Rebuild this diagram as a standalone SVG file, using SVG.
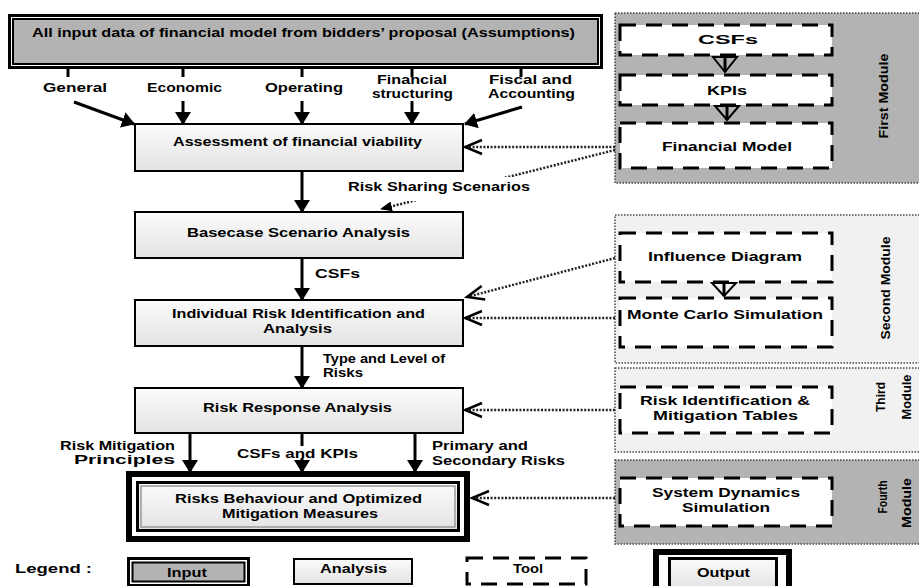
<svg xmlns="http://www.w3.org/2000/svg" width="919" height="586" viewBox="0 0 919 586">
<style>
.t{font-family:"Liberation Sans",Arial,sans-serif;font-weight:bold;font-size:13px;fill:#000}
.box{fill:url(#g);stroke:#000;stroke-width:2}
.tool{fill:#fff;stroke:#000;stroke-width:3;stroke-dasharray:16 10}
.sol{stroke:#000;stroke-width:3;fill:none}
.dot{stroke:#222;stroke-width:2.5;stroke-dasharray:2 1.6;fill:none}
.pan{stroke:#444;stroke-width:1.5;stroke-dasharray:1.5 1.5}
</style>
<defs>
<linearGradient id="g" x1="0" y1="0" x2="0" y2="1">
<stop offset="0" stop-color="#fbfbfb"/>
<stop offset="1" stop-color="#e3e3e3"/>
</linearGradient>
<marker id="ah" viewBox="0 0 13 16" refX="12" refY="8" markerWidth="13" markerHeight="16" markerUnits="userSpaceOnUse" orient="auto">
<path d="M0,0 L13,8 L0,16 z" fill="#000"/>
</marker>
<marker id="sh" viewBox="0 0 12 10" refX="11" refY="5" markerWidth="12" markerHeight="10" markerUnits="userSpaceOnUse" orient="auto">
<path d="M0,0 L12,5 L0,10 z" fill="#000"/>
</marker>
<marker id="oh" viewBox="-2 -2 22 18" refX="17" refY="7" markerWidth="22" markerHeight="18" markerUnits="userSpaceOnUse" orient="auto">
<path d="M0,0 L17,7 L0,14" fill="none" stroke="#000" stroke-width="2.5"/>
</marker>
</defs>
<rect width="919" height="586" fill="#fff"/>

<g id="panels">
<rect id="first-module" class="pan" x="615" y="13" width="320" height="170" fill="#b3b3b3"/>
<rect id="second-module" class="pan" x="615" y="215" width="320" height="148" fill="#f1f1f1"/>
<rect id="third-module" class="pan" x="615" y="368" width="320" height="84" fill="#f1f1f1"/>
<rect id="fourth-module" class="pan" x="615" y="460" width="320" height="84" fill="#b3b3b3"/>
<text class="t" transform="translate(888,96) rotate(-90)" text-anchor="middle" textLength="85" lengthAdjust="spacingAndGlyphs">First Module</text>
<text class="t" transform="translate(890,288) rotate(-90)" text-anchor="middle" textLength="103" lengthAdjust="spacingAndGlyphs">Second Module</text>
<text class="t" transform="translate(885,397) rotate(-90)" text-anchor="middle" textLength="30" lengthAdjust="spacingAndGlyphs">Third</text>
<text class="t" transform="translate(911,397) rotate(-90)" text-anchor="middle" textLength="45" lengthAdjust="spacingAndGlyphs">Module</text>
<text class="t" transform="translate(887,497) rotate(-90)" text-anchor="middle" textLength="33" lengthAdjust="spacingAndGlyphs">Fourth</text>
<text class="t" transform="translate(911,503) rotate(-90)" text-anchor="middle" textLength="50" lengthAdjust="spacingAndGlyphs">Module</text>
</g>

<g id="connectors">
<path class="sol" d="M68,68 V77 M183,68 V77 M302,68 V77 M412,68 V77 M521,68 V77"/>
<line class="sol" x1="74" y1="102" x2="134" y2="124" marker-end="url(#ah)"/>
<line class="sol" x1="183" y1="101" x2="183" y2="124" marker-end="url(#ah)"/>
<line class="sol" x1="302" y1="101" x2="302" y2="124" marker-end="url(#ah)"/>
<line class="sol" x1="412" y1="101" x2="412" y2="124" marker-end="url(#ah)"/>
<line class="sol" x1="522" y1="107" x2="465" y2="124" marker-end="url(#ah)"/>
<line class="sol" x1="302" y1="171" x2="302" y2="212" marker-end="url(#ah)"/>
<line class="sol" x1="302" y1="258" x2="302" y2="300" marker-end="url(#ah)"/>
<line class="sol" x1="302" y1="346" x2="302" y2="388" marker-end="url(#ah)"/>
<line class="sol" x1="190" y1="433" x2="190" y2="472" marker-end="url(#ah)"/>
<line class="sol" x1="302" y1="433" x2="302" y2="446"/>
<line class="sol" x1="302" y1="458" x2="302" y2="472" marker-end="url(#ah)"/>
<line class="sol" x1="415" y1="433" x2="415" y2="472" marker-end="url(#ah)"/>
<line class="sol" x1="725" y1="55" x2="725" y2="72"/>
<polygon points="713,57 737,57 725,72" fill="none" stroke="#000" stroke-width="2"/>
<line class="sol" x1="727" y1="105" x2="727" y2="120"/>
<polygon points="715,106 739,106 727,120" fill="none" stroke="#000" stroke-width="2"/>
<line class="sol" x1="724" y1="282" x2="724" y2="296"/>
<polygon points="712,283 736,283 724,296" fill="none" stroke="#000" stroke-width="2"/>
<line class="dot" x1="615" y1="147" x2="465" y2="147" marker-end="url(#oh)"/>
<line class="dot" x1="615" y1="150" x2="381" y2="209" marker-end="url(#sh)"/>
<line class="dot" x1="615" y1="258" x2="467" y2="297" marker-end="url(#oh)"/>
<line class="dot" x1="615" y1="318" x2="465" y2="318" marker-end="url(#oh)"/>
<line class="dot" x1="615" y1="410" x2="465" y2="410" marker-end="url(#oh)"/>
<line class="dot" x1="615" y1="498" x2="472" y2="498" marker-end="url(#oh)"/>
<rect x="343" y="177" width="224" height="24" fill="#fff"/>
<text class="t" x="43" y="92" textLength="64" lengthAdjust="spacingAndGlyphs">General</text>
<text class="t" x="147" y="92" textLength="75" lengthAdjust="spacingAndGlyphs">Economic</text>
<text class="t" x="265" y="92" textLength="78" lengthAdjust="spacingAndGlyphs">Operating</text>
<text class="t" x="377" y="84" textLength="70" lengthAdjust="spacingAndGlyphs">Financial</text>
<text class="t" x="372" y="98" textLength="81" lengthAdjust="spacingAndGlyphs">structuring</text>
<text class="t" x="489" y="84" textLength="83" lengthAdjust="spacingAndGlyphs">Fiscal and</text>
<text class="t" x="488" y="98" textLength="87" lengthAdjust="spacingAndGlyphs">Accounting</text>
<text class="t" x="348" y="191" textLength="182" lengthAdjust="spacingAndGlyphs">Risk Sharing Scenarios</text>
<text class="t" x="315" y="278" textLength="45" lengthAdjust="spacingAndGlyphs">CSFs</text>
<text class="t" x="323" y="363" textLength="122" lengthAdjust="spacingAndGlyphs">Type and Level of</text>
<text class="t" x="323" y="377" textLength="40" lengthAdjust="spacingAndGlyphs">Risks</text>
<text class="t" x="60" y="450" textLength="115" lengthAdjust="spacingAndGlyphs">Risk Mitigation</text>
<text class="t" x="74" y="464" textLength="101" lengthAdjust="spacingAndGlyphs">Principles</text>
<text class="t" x="237" y="458" textLength="121" lengthAdjust="spacingAndGlyphs">CSFs and KPIs</text>
<text class="t" x="432" y="450" textLength="96" lengthAdjust="spacingAndGlyphs">Primary and</text>
<text class="t" x="432" y="465" textLength="133" lengthAdjust="spacingAndGlyphs">Secondary Risks</text>
</g>

<g id="input-data">
<rect x="9.5" y="15.5" width="592" height="52" fill="#fff" stroke="#000" stroke-width="3"/>
<rect x="13" y="19" width="585" height="45" fill="#b3b3b3" stroke="#000" stroke-width="2"/>
<text class="t" x="32" y="37" textLength="543" lengthAdjust="spacingAndGlyphs">All input data of financial model from bidders’ proposal (Assumptions)</text>
</g>

<g id="assessment">
<rect class="box" x="135" y="124" width="328" height="47"/>
<text class="t" x="173" y="146" textLength="249" lengthAdjust="spacingAndGlyphs">Assessment of financial viability</text>
</g>

<g id="basecase">
<rect class="box" x="135" y="212" width="328" height="46"/>
<text class="t" x="187" y="237" textLength="223" lengthAdjust="spacingAndGlyphs">Basecase Scenario Analysis</text>
</g>

<g id="individual-risk">
<rect class="box" x="135" y="300" width="328" height="46"/>
<text class="t" x="172" y="318" textLength="253" lengthAdjust="spacingAndGlyphs">Individual Risk Identification and</text>
<text class="t" x="263" y="333" textLength="69" lengthAdjust="spacingAndGlyphs">Analysis</text>
</g>

<g id="risk-response">
<rect class="box" x="135" y="388" width="328" height="45"/>
<text class="t" x="203" y="412" textLength="189" lengthAdjust="spacingAndGlyphs">Risk Response Analysis</text>
</g>

<g id="output">
<rect x="129" y="474" width="338" height="65" fill="#fff" stroke="#000" stroke-width="6"/>
<rect x="137.5" y="482.5" width="321" height="48" fill="url(#g)" stroke="#000" stroke-width="3"/>
<rect x="141" y="486" width="314" height="41" fill="none" stroke="#999" stroke-width="1.5"/>
<text class="t" x="175" y="503" textLength="247" lengthAdjust="spacingAndGlyphs">Risks Behaviour and Optimized</text>
<text class="t" x="222" y="518" textLength="156" lengthAdjust="spacingAndGlyphs">Mitigation Measures</text>
</g>

<g id="csfs">
<rect class="tool" x="620" y="25" width="212" height="30"/>
<text class="t" x="698" y="44" textLength="60" lengthAdjust="spacingAndGlyphs">CSFs</text>
</g>
<g id="kpis">
<rect class="tool" x="620" y="75" width="212" height="30"/>
<text class="t" x="707" y="95" textLength="40" lengthAdjust="spacingAndGlyphs">KPIs</text>
</g>
<g id="financial-model">
<rect class="tool" x="620" y="123" width="212" height="45"/>
<text class="t" x="662" y="151" textLength="130" lengthAdjust="spacingAndGlyphs">Financial Model</text>
</g>
<g id="influence-diagram">
<rect class="tool" x="620" y="233" width="212" height="49"/>
<text class="t" x="648" y="261" textLength="154" lengthAdjust="spacingAndGlyphs">Influence Diagram</text>
</g>
<g id="monte-carlo">
<rect class="tool" x="620" y="298" width="212" height="49"/>
<text class="t" x="627" y="319" textLength="196" lengthAdjust="spacingAndGlyphs">Monte Carlo Simulation</text>
</g>
<g id="risk-tables">
<rect class="tool" x="620" y="387" width="212" height="46"/>
<text class="t" x="640" y="405" textLength="170" lengthAdjust="spacingAndGlyphs">Risk Identification &amp;</text>
<text class="t" x="653" y="420" textLength="145" lengthAdjust="spacingAndGlyphs">Mitigation Tables</text>
</g>
<g id="system-dynamics">
<rect class="tool" x="620" y="478" width="212" height="48"/>
<text class="t" x="652" y="497" textLength="148" lengthAdjust="spacingAndGlyphs">System Dynamics</text>
<text class="t" x="682" y="512" textLength="88" lengthAdjust="spacingAndGlyphs">Simulation</text>
</g>

<g id="legend">
<text class="t" x="15" y="573" textLength="77" lengthAdjust="spacingAndGlyphs">Legend :</text>
<rect x="128.5" y="558.5" width="120" height="27" fill="#fff" stroke="#000" stroke-width="3"/>
<rect x="132.5" y="562.5" width="112" height="19" fill="#b3b3b3" stroke="#000" stroke-width="2"/>
<text class="t" x="167" y="577" textLength="40" lengthAdjust="spacingAndGlyphs">Input</text>
<rect class="box" x="294" y="559" width="118" height="25"/>
<text class="t" x="320" y="573" textLength="67" lengthAdjust="spacingAndGlyphs">Analysis</text>
<rect class="tool" x="467" y="558" width="119" height="26"/>
<text class="t" x="513" y="573" textLength="30" lengthAdjust="spacingAndGlyphs">Tool</text>
<rect x="656" y="552" width="133" height="40" fill="#fff" stroke="#000" stroke-width="6"/>
<rect x="669.5" y="558.5" width="107" height="30" fill="url(#g)" stroke="#000" stroke-width="3"/>
<text class="t" x="697" y="577" textLength="53" lengthAdjust="spacingAndGlyphs">Output</text>
</g>
</svg>
